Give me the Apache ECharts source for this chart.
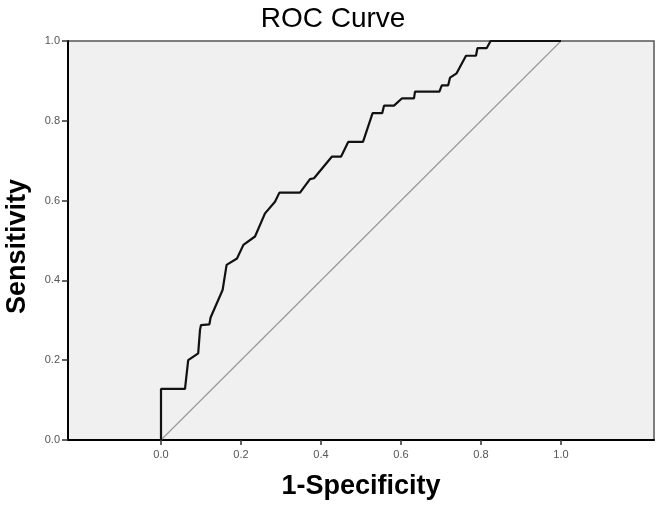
<!DOCTYPE html>
<html>
<head>
<meta charset="utf-8">
<script src="https://cdn.jsdelivr.net/npm/echarts@6/dist/echarts.min.js"></script>
<style>
html,body{margin:0;padding:0;background:#fff;}
#c{width:666px;height:505px;}
</style>
</head>
<body>
<div id="c"></div>
<script>
// 1 - Specificity (false positive rate)
var fpr = [0, 0, 0.06, 0.068, 0.093, 0.0975, 0.10, 0.121, 0.124, 0.154, 0.164, 0.19, 0.206, 0.235, 0.26, 0.285, 0.296, 0.3475, 0.3725, 0.3825, 0.427, 0.45, 0.468, 0.505, 0.529, 0.553, 0.5575, 0.5825, 0.602, 0.6325, 0.635, 0.696, 0.702, 0.718, 0.7225, 0.739, 0.7625, 0.7875, 0.791, 0.814, 0.824, 1.0];
// Sensitivity (true positive rate)
var tpr = [0, 0.128, 0.128, 0.2, 0.217, 0.276, 0.288, 0.29, 0.307, 0.376, 0.439, 0.455, 0.489, 0.51, 0.568, 0.597, 0.62, 0.62, 0.654, 0.656, 0.71, 0.71, 0.747, 0.747, 0.819, 0.819, 0.838, 0.838, 0.856, 0.856, 0.873, 0.873, 0.889, 0.889, 0.908, 0.919, 0.963, 0.963, 0.982, 0.982, 1.0, 1.0];
// Reference diagonal
var refX = [0, 1];
var refY = [0, 1];
var xTicks = [0, 0.2, 0.4, 0.6, 0.8, 1.0];
var yTicks = [0, 0.2, 0.4, 0.6, 0.8, 1.0];

var rocData = fpr.map(function (v, i) { return [v, tpr[i]]; });
var refData = refX.map(function (v, i) { return [v, refY[i]]; });

var chart = echarts.init(document.getElementById('c'), null, {renderer: 'canvas'});
var font = 'Liberation Sans, Arial, sans-serif';
chart.setOption({
  animation: false,
  backgroundColor: '#ffffff',
  title: {
    text: 'ROC Curve',
    left: 'center',
    top: 0,
    textStyle: {fontFamily: font, fontSize: 28, fontWeight: 'normal', color: '#000'}
  },
  grid: {
    left: 68, top: 41, right: 12, bottom: 65,
    outerBoundsMode: 'none',
    containLabel: false,
    show: true,
    backgroundColor: '#f0f0f0',
    borderColor: '#555',
    borderWidth: 1.5
  },
  xAxis: {
    type: 'value',
    min: -0.2325,
    max: 1.2325,
    name: '1-Specificity',
    nameLocation: 'middle',
    nameGap: 33,
    nameTextStyle: {fontFamily: font, fontSize: 27, fontWeight: 'bold', color: '#000'},
    axisLine: {show: true, onZero: false, lineStyle: {color: '#000', width: 2}},
    axisTick: {show: true, customValues: xTicks, length: 5, lineStyle: {color: '#333', width: 1.5}},
    axisLabel: {customValues: xTicks, fontFamily: font, fontSize: 11, color: '#555', margin: 9,
      formatter: function (v) { return v.toFixed(1); }},
    splitLine: {show: false}
  },
  yAxis: {
    type: 'value',
    min: 0,
    max: 1,
    name: 'Sensitivity',
    nameLocation: 'middle',
    nameGap: 37,
    nameTextStyle: {fontFamily: font, fontSize: 27, fontWeight: 'bold', color: '#000', padding: [0, 12, 0, 0]},
    axisLine: {show: true, onZero: false, lineStyle: {color: '#000', width: 2}},
    axisTick: {show: true, customValues: yTicks, length: 6, lineStyle: {color: '#333', width: 1.5}},
    axisLabel: {customValues: yTicks, fontFamily: font, fontSize: 11, color: '#555', margin: 8,
      formatter: function (v) { return v.toFixed(1); }},
    splitLine: {show: false}
  },
  series: [
    {
      type: 'line',
      data: refData,
      showSymbol: false,
      symbol: 'none',
      silent: true,
      lineStyle: {color: '#999', width: 1.2},
      z: 2
    },
    {
      type: 'line',
      data: rocData,
      showSymbol: false,
      symbol: 'none',
      clip: false,
      silent: true,
      lineStyle: {color: '#111', width: 2.2},
      z: 3
    }
  ]
});
</script>
</body>
</html>
